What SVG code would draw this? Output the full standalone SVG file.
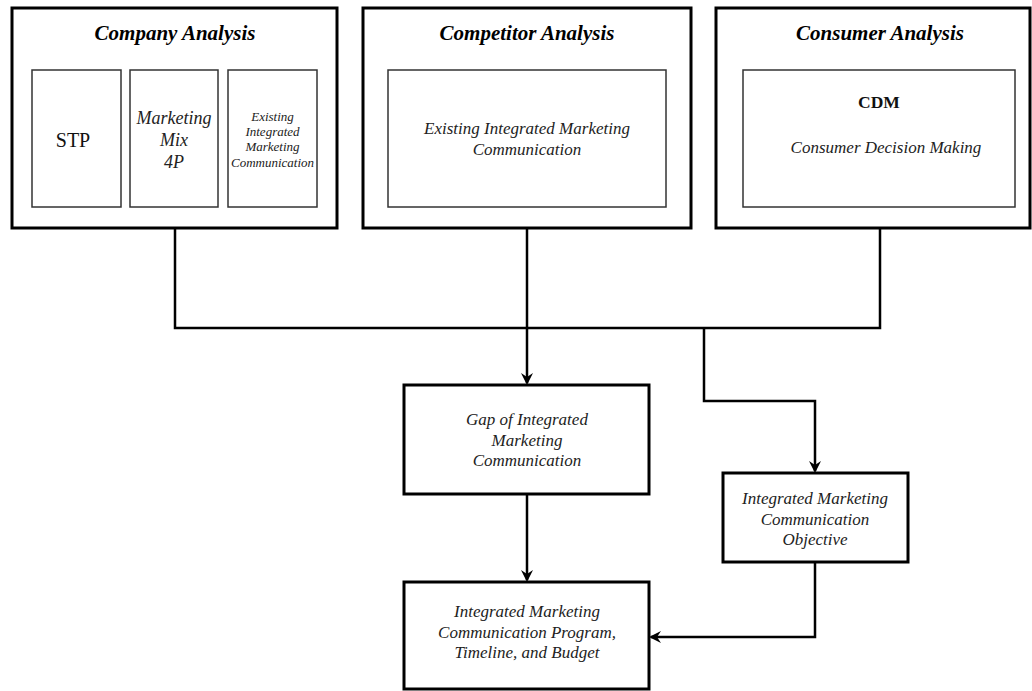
<svg xmlns="http://www.w3.org/2000/svg" width="1032" height="691" viewBox="0 0 1032 691">
<style>
.outer{fill:#fff;stroke:#000;stroke-width:3}
.inner{fill:#fff;stroke:#333;stroke-width:1.5}
.box{fill:#fff;stroke:#000;stroke-width:3}
.title{font-family:"Liberation Serif",serif;font-weight:bold;font-style:italic;font-size:21px;fill:#000;text-anchor:middle}
.it{font-family:"Liberation Serif",serif;font-style:italic;font-size:17px;fill:#222;text-anchor:middle}
.rg{font-family:"Liberation Serif",serif;font-size:20px;fill:#111;text-anchor:middle}
.bd{font-family:"Liberation Serif",serif;font-weight:bold;font-size:17.5px;fill:#111;text-anchor:middle}
.sm{font-family:"Liberation Serif",serif;font-style:italic;font-size:13px;fill:#222;text-anchor:middle}
.conn{fill:none;stroke:#000;stroke-width:2.5}
</style>
<defs>
<marker id="arr" markerWidth="12" markerHeight="12" refX="10" refY="6" orient="auto" markerUnits="userSpaceOnUse">
<path d="M0,0 L12,6 L0,12 L4,6 Z" fill="#000"/>
</marker>
</defs>
<rect width="1032" height="691" fill="#fff"/>
<g id="connectors">
<path class="conn" d="M175,228 V328 H880 V228"/>
<path class="conn" d="M527,228 V383" marker-end="url(#arr)"/>
<path class="conn" d="M704,328 V401 H815 V471" marker-end="url(#arr)"/>
<path class="conn" d="M527,494 V580" marker-end="url(#arr)"/>
<path class="conn" d="M815,562 V637 H651" marker-end="url(#arr)"/>
</g>
<g id="company">
<rect class="outer" x="12" y="8" width="325" height="220"/>
<text class="title" x="175" y="40">Company Analysis</text>
<g id="stp"><rect class="inner" x="32" y="70" width="89" height="137"/><text class="rg" x="73" y="147">STP</text></g>
<g id="mix"><rect class="inner" x="130" y="70" width="88" height="137"/>
<text class="it" x="174" y="124" style="font-size:18px">Marketing</text>
<text class="it" x="174" y="146" style="font-size:18px">Mix</text>
<text class="it" x="174" y="168" style="font-size:18px">4P</text></g>
<g id="existing-company"><rect class="inner" x="228" y="70" width="89" height="137"/>
<text class="sm" x="272.5" y="121">Existing</text>
<text class="sm" x="272.5" y="136">Integrated</text>
<text class="sm" x="272.5" y="151">Marketing</text>
<text class="sm" x="272.5" y="167">Communication</text></g>
</g>
<g id="competitor">
<rect class="outer" x="363" y="8" width="328" height="220"/>
<text class="title" x="527" y="40">Competitor Analysis</text>
<rect class="inner" x="388" y="70" width="278" height="137"/>
<text class="it" x="527" y="134">Existing Integrated Marketing</text>
<text class="it" x="527" y="155">Communication</text>
</g>
<g id="consumer">
<rect class="outer" x="716" y="8" width="314" height="220"/>
<text class="title" x="880" y="40">Consumer Analysis</text>
<rect class="inner" x="743" y="70" width="272" height="137"/>
<text class="bd" x="879" y="108">CDM</text>
<text class="it" x="886" y="153">Consumer Decision Making</text>
</g>
<g id="gap">
<rect class="box" x="404" y="385" width="245" height="109"/>
<text class="it" x="527" y="425">Gap of Integrated</text>
<text class="it" x="527" y="446">Marketing</text>
<text class="it" x="527" y="466">Communication</text>
</g>
<g id="objective">
<rect class="box" x="723" y="473" width="185" height="89"/>
<text class="it" x="815" y="504">Integrated Marketing</text>
<text class="it" x="815" y="525">Communication</text>
<text class="it" x="815" y="545">Objective</text>
</g>
<g id="program">
<rect class="box" x="404" y="582" width="245" height="107"/>
<text class="it" x="527" y="617">Integrated Marketing</text>
<text class="it" x="527" y="638">Communication Program,</text>
<text class="it" x="527" y="658">Timeline, and Budget</text>
</g>
</svg>
